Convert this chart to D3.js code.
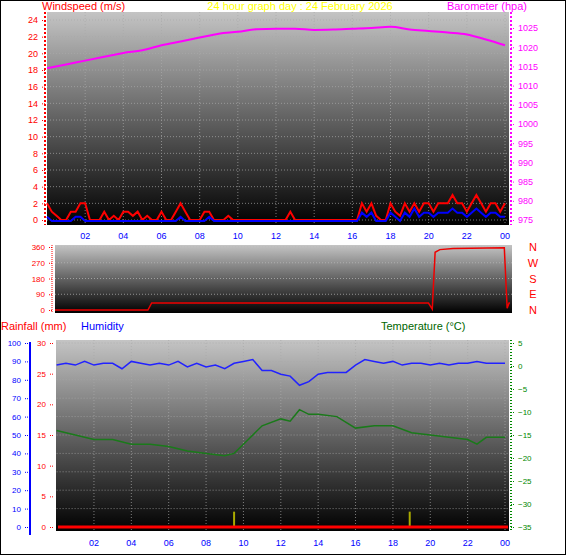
<!DOCTYPE html>
<html><head><meta charset="utf-8">
<script src="https://cdn.jsdelivr.net/npm/d3@7"></script>
<style>body{margin:0;background:#fff}svg{display:block;font-family:"Liberation Sans",Arial,sans-serif}</style>
</head><body><svg id="c" width="566" height="555"></svg>
<script>
// wind gust / average every 15 minutes (m/s)
const gust = [2,1,0.5,0, 0,1,1,2, 2,0,0,0, 1,0,0.5,0, 1,1,0.5,1, 0,0.5,0,0, 1,0,0,1, 2,1,0,0,
  0,1,1,0, 0,0,0.5,0, 0,0,0,0, 0,0,0,0, 0,0,0,1, 0,0,0,0, 0,0,0,0, 0,0,0,0, 0,0,2,1, 2,0.5,0,0,
  2,1,0.5,2, 1,2,1,2, 2,1,2,2, 2,3,2,2, 1,2,3,2, 1,2,2,1, 2];
const avgWind = [0.5,0,0,0, 0,0,0.5,0.5, 0,0,0,0, 0,0,0,0, 0,0,0,0, 0,0,0,0, 0,0,0,0, 0.5,0,0,0,
  0,0,0.5,0, 0,0,0,0, 0,0,0,0, 0,0,0,0, 0,0,0,0, 0,0,0,0, 0,0,0,0, 0,0,0,0, 0,0,1,0.5, 1,0,0,0,
  1,0.5,0,1, 0.5,1.5,0.5,1, 1,0.5,1,1, 1,1.5,1,1, 0.5,1,1.5,1, 0.5,1,1,0.5, 0.5];
// hourly barometer (hPa)
const baro = [1014.5,1015.5,1016.5,1017.5,1018.5,1019.2,1020.5,1021.5,1022.5,1023.5,1024,1024.7,1024.8,
  1024.8,1024.5,1024.6,1024.8,1025,1025.3,1024.6,1024.2,1023.8,1023.3,1022,1020.5];
// wind direction [hour, degrees]
const dirPts = [[0,0],[4.9,0],[5.1,40],[19.7,40],[19.9,5],[20.05,330],[20.3,345],[21,352],[23.7,355],[23.85,10],[23.95,40],[24,40]];
// humidity every 30 min (%)
const humidity = [88,89,88,90,88,89,89,86,90,89,88,89,88,90,87,89,87,88,86,89,90,91,85,85,83,82,77,79,83,84,84,84,
  88,91,90,89,90,88,89,89,88,89,88,89,89,90,89,89,89];
// temperature [hour, °C]
const temp = [[0,-14],[1,-15],[2,-16],[3,-16],[4,-17],[5,-17],[6,-17.5],[7,-18.5],[8,-19],[9,-19.5],[9.5,-19],
  [10,-17],[11,-13],[12,-11.5],[12.5,-12],[13,-9.5],[13.5,-10.5],[14,-10.5],[15,-11],[16,-13.5],[17,-13],[18,-13],
  [19,-14.5],[20,-15],[21,-15.5],[22,-16],[22.5,-17],[23,-15.5],[24,-15.5]];
const rainMarks = [[9.5,2.5],[18.9,2.5]];
const hourTicks = [2,4,6,8,10,12,14,16,18,20,22,24];
const dirLabels = ["N","W","S","E","N"];

const svg = d3.select("#c");
svg.append("rect").attr("x",0.5).attr("y",0.5).attr("width",565).attr("height",554).attr("fill","#fff").attr("stroke","#000");
const defs = svg.append("defs");
const gr = defs.append("linearGradient").attr("id","bg").attr("x1",0).attr("y1",0).attr("x2",0).attr("y2",1);
gr.append("stop").attr("offset","0%").attr("stop-color","#c4c4c4");
gr.append("stop").attr("offset","100%").attr("stop-color","#000");
const hf = h => String(h % 24).padStart(2,"0");

function panel(x0,x1,y0,y1){
  svg.append("rect").attr("x",x0).attr("y",y0).attr("width",x1-x0).attr("height",y1-y0).attr("fill","url(#bg)");
}
function grid(x, y, yTicks, y0, y1){
  const g = svg.append("g").attr("stroke","#aaa").attr("stroke-dasharray","1,2").attr("opacity",0.7);
  hourTicks.forEach(h=>g.append("line").attr("x1",x(h)).attr("x2",x(h)).attr("y1",y0).attr("y2",y1));
  yTicks.forEach(v=>g.append("line").attr("x1",x.range()[0]).attr("x2",x.range()[1]+4).attr("y1",y(v)).attr("y2",y(v)));
}
function ticksAxis(axis, tx, color, size){
  const g = svg.append("g").attr("transform",tx).call(axis);
  g.select(".domain").remove();
  g.selectAll("text").attr("fill",color).style("font-size",(size||9)+"px");
  g.selectAll("line").attr("stroke",color).attr("stroke-dasharray","1,1");
  return g;
}

// ---- top panel: wind + barometer
const xT = d3.scaleLinear().domain([0,24]).range([47,505]);
const yW = d3.scaleLinear().domain([0,24]).range([220,20]);
const yB = d3.scaleLinear().domain([975,1025]).range([220,28]);
panel(47,509,12,225);
grid(xT,yW,d3.range(0,25,2),12,225);
ticksAxis(d3.axisLeft(yW).tickValues(d3.range(0,25,2)).tickSize(4),"translate(45,0)","#f00");
svg.append("line").attr("x1",45).attr("x2",45).attr("y1",12).attr("y2",225).attr("stroke","#f00").attr("stroke-dasharray","2,2").attr("stroke-width",2);
ticksAxis(d3.axisRight(yB).tickValues(d3.range(975,1026,5)).tickFormat(d3.format("d")).tickSize(4),"translate(511,0)","#f0f");
svg.append("line").attr("x1",511).attr("x2",511).attr("y1",12).attr("y2",225).attr("stroke","#f0f").attr("stroke-dasharray","2,2").attr("stroke-width",2);
const q = (d,i)=>xT(i/4);
svg.append("path").datum(gust).attr("fill","none").attr("stroke","#f00").attr("stroke-width",2)
  .attr("d",d3.line().x(q).y(d=>yW(d)));
svg.append("path").datum(avgWind).attr("fill","none").attr("stroke","#00f").attr("stroke-width",2)
  .attr("d",d3.line().x(q).y(d=>yW(d)+1));
svg.append("path").datum(baro).attr("fill","none").attr("stroke","#f0f").attr("stroke-width",2)
  .attr("d",d3.line().x((d,i)=>xT(i)).y(d=>yB(d)).curve(d3.curveMonotoneX));
svg.selectAll("text.hT").data(hourTicks).join("text").attr("class","hT").attr("x",d=>xT(d)).attr("y",239)
  .attr("text-anchor","middle").attr("fill","#00f").style("font-size","9px").text(hf);
svg.append("text").attr("x",42).attr("y",10).attr("fill","#f00").style("font-size","11px").text("Windspeed (m/s)");
svg.append("text").attr("x",300).attr("y",10).attr("text-anchor","middle").attr("fill","#ff0").style("font-size","11px").text("24 hour graph day : 24 February 2026");
svg.append("text").attr("x",527).attr("y",10).attr("text-anchor","end").attr("fill","#f0f").style("font-size","11px").text("Barometer (hpa)");

// ---- direction panel
const xD = d3.scaleLinear().domain([0,24]).range([55,510]);
const yD = d3.scaleLinear().domain([0,360]).range([310,247]);
panel(55,512,245,313);
const dg = svg.append("g").attr("stroke","#bbb").attr("stroke-dasharray","1,2").attr("opacity",0.7);
[90,180,270,360].forEach(v=>dg.append("line").attr("x1",55).attr("x2",512).attr("y1",yD(v)).attr("y2",yD(v)));
ticksAxis(d3.axisLeft(yD).tickValues([0,90,180,270,360]).tickSize(4),"translate(52,0)","#f00",8);
svg.append("line").attr("x1",52).attr("x2",52).attr("y1",245).attr("y2",313).attr("stroke","#f00").attr("stroke-dasharray","1,1");
svg.append("path").datum(dirPts).attr("fill","none").attr("stroke","#e00").attr("stroke-width",1.5)
  .attr("d",d3.line().x(d=>xD(d[0])).y(d=>yD(d[1])));
svg.selectAll("text.dl").data(dirLabels).join("text").attr("class","dl").attr("x",533).attr("y",(d,i)=>yD(360-i*90)+4)
  .attr("text-anchor","middle").attr("fill","#f00").style("font-size","11px").text(d=>d);

// ---- bottom panel
const xH = d3.scaleLinear().domain([0,24]).range([56.6,505]);
const yH = d3.scaleLinear().domain([0,100]).range([527,343]);
const yR = d3.scaleLinear().domain([0,30]).range([527,343]);
const yTp = d3.scaleLinear().domain([-35,5]).range([527,343]);
panel(56,509,340,531);
grid(xH,yH,d3.range(10,101,10),340,531);
ticksAxis(d3.axisLeft(yH).tickValues(d3.range(0,101,10)).tickSize(4),"translate(28,0)","#00f",8);
svg.append("line").attr("x1",30).attr("x2",30).attr("y1",342).attr("y2",535).attr("stroke","#00f").attr("stroke-width",2);
ticksAxis(d3.axisLeft(yR).tickValues(d3.range(0,31,5)).tickSize(4),"translate(53,0)","#f00",8);
ticksAxis(d3.axisRight(yTp).tickValues(d3.range(-35,6,5)).tickSize(4),"translate(511,0)","#080",8);
svg.append("line").attr("x1",511).attr("x2",511).attr("y1",340).attr("y2",531).attr("stroke","#080").attr("stroke-dasharray","1,2").attr("stroke-width",2);
svg.append("path").datum(temp).attr("fill","none").attr("stroke","#1a7a1a").attr("stroke-width",1.5)
  .attr("d",d3.line().x(d=>xH(d[0])).y(d=>yTp(d[1])));
svg.append("path").datum(humidity).attr("fill","none").attr("stroke","#22f").attr("stroke-width",1.5)
  .attr("d",d3.line().x((d,i)=>xH(i/2)).y(d=>yH(d)));
svg.selectAll("line.rm").data(rainMarks).join("line").attr("class","rm").attr("x1",d=>xH(d[0])).attr("x2",d=>xH(d[0]))
  .attr("y1",d=>yR(d[1])).attr("y2",yR(0)).attr("stroke","#aa0").attr("stroke-width",2);
svg.append("line").attr("x1",58).attr("x2",508).attr("y1",yR(0)).attr("y2",yR(0)).attr("stroke","#f00").attr("stroke-width",3);
svg.selectAll("text.hB").data(hourTicks).join("text").attr("class","hB").attr("x",d=>xH(d)).attr("y",546)
  .attr("text-anchor","middle").attr("fill","#00f").style("font-size","9px").text(hf);
svg.append("text").attr("x",1).attr("y",330).attr("fill","#f00").style("font-size","11px").text("Rainfall (mm)");
svg.append("text").attr("x",81).attr("y",330).attr("fill","#00f").style("font-size","11px").text("Humidity");
svg.append("text").attr("x",381).attr("y",330).attr("fill","#060").style("font-size","11px").text("Temperature (°C)");
</script></body></html>
